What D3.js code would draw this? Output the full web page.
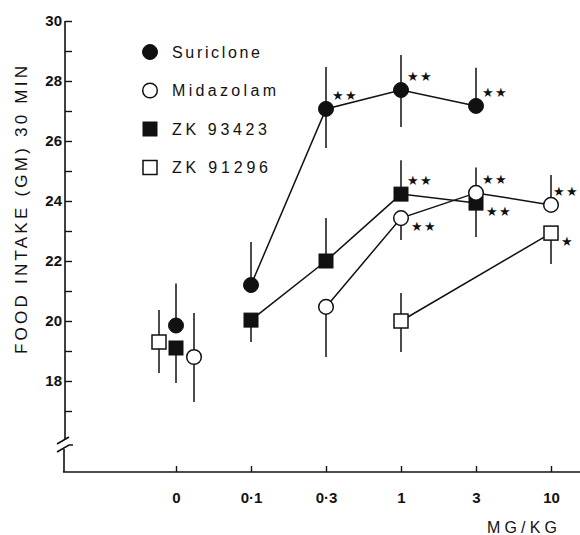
<!DOCTYPE html>
<html>
<head>
<meta charset="utf-8">
<script src="https://cdn.jsdelivr.net/npm/d3@7"></script>
<style>
  body { margin: 0; background: #fff; }
  text { font-family: "Liberation Sans", Arial, sans-serif; fill: #111; }
</style>
</head>
<body>
<div id="chart"></div>
<script>
// doses along the x axis (mg/kg), first one is the vehicle control
const doses = ["0", "0·1", "0·3", "1", "3", "10"]
const yTicks = [17, 18, 19, 20, 21, 22, 23, 24, 25, 26, 27, 28, 29, 30]

// mean food intake (g) per dose, null = not tested
const suriclone = [19.85, 21.2, 27.07, 27.7, 27.17, null]
const suricloneUp = [1.4, 1.43, 1.4, 1.17, 1.27, 0]
const suricloneDown = [0, 0, 1.3, 1.23, 0, 0]

const midazolam = [18.8, null, 20.47, 23.43, 24.27, 23.87]
const midazolamUp = [1.47, 0, 0, 0, 0.85, 1.0]
const midazolamDown = [1.5, 0, 1.67, 0.73, 0, 0]

const zk93423 = [19.1, 20.03, 22.0, 24.23, 23.93, null]
const zk93423Up = [0, 0, 1.43, 1.13, 0, 0]
const zk93423Down = [1.17, 0.73, 0, 0, 1.13, 0]

const zk91296 = [19.3, null, null, 20.0, null, 22.93]
const zk91296Up = [1.07, 0, 0, 0.93, 0, 0]
const zk91296Down = [1.03, 0, 0, 1.03, 0, 1.03]

// significance marks
const stars = [
    { series: "Suriclone", dose: "0·3", text: "★★", side: "above" },
    { series: "Suriclone", dose: "1", text: "★★", side: "above" },
    { series: "Suriclone", dose: "3", text: "★★", side: "above" },
    { series: "ZK 93423", dose: "1", text: "★★", side: "above" },
    { series: "ZK 93423", dose: "3", text: "★★", side: "below" },
    { series: "Midazolam", dose: "1", text: "★★", side: "below" },
    { series: "Midazolam", dose: "3", text: "★★", side: "above" },
    { series: "Midazolam", dose: "10", text: "★★", side: "above" },
    { series: "ZK 91296", dose: "10", text: "★", side: "below" }
]

const width = 580,
      height = 535

const series = [
    { name: "ZK 93423", values: zk93423, up: zk93423Up, down: zk93423Down, shape: "square", filled: true, ctrl: 0 },
    { name: "ZK 91296", values: zk91296, up: zk91296Up, down: zk91296Down, shape: "square", filled: false, ctrl: -17 },
    { name: "Suriclone", values: suriclone, up: suricloneUp, down: suricloneDown, shape: "circle", filled: true, ctrl: 0 },
    { name: "Midazolam", values: midazolam, up: midazolamUp, down: midazolamDown, shape: "circle", filled: false, ctrl: 18 }
]
const legendOrder = ["Suriclone", "Midazolam", "ZK 93423", "ZK 91296"]
const legendWidth = { "Suriclone": 88, "Midazolam": 104, "ZK 93423": 95, "ZK 91296": 96 }

const axisX = 65, axisBottom = 472

const x = d3.scalePoint().domain(doses).range([176, 551])
const y = d3.scaleLinear().domain([18, 30]).range([381, 21])

const svg = d3.select("#chart")
    .append("svg")
    .attr("width", width)
    .attr("height", height)

// y axis with a break near the bottom
const yAxis = svg.append("g")
    .attr("transform", `translate(${axisX}, 0)`)
    .call(d3.axisLeft(y)
        .tickValues(yTicks)
        .tickSize(-7)
        .tickSizeOuter(0)
        .tickPadding(3)
        .tickFormat(d => d >= 18 && d % 2 === 0 ? d : ""))
yAxis.select(".domain").remove()
yAxis.selectAll(".tick line").attr("stroke", "#111").attr("stroke-width", 1.4)
yAxis.selectAll(".tick text")
    .attr("font-size", "15px")
    .attr("font-weight", "bold")
    .attr("font-family", "Liberation Sans, Arial, sans-serif")

const axisLine = { stroke: "#111", "stroke-width": 1.6, fill: "none" }
function styled(sel) {
    Object.entries(axisLine).forEach(([k, v]) => sel.attr(k, v))
    return sel
}
styled(svg.append("line").attr("x1", axisX).attr("x2", axisX).attr("y1", y(30)).attr("y2", 440))
styled(svg.append("path").attr("d", `M${axisX - 8},${444} L${axisX + 4},${437}`))
styled(svg.append("path").attr("d", `M${axisX - 8},${452} L${axisX + 4},${445} L${axisX + 8},${445}`))
styled(svg.append("line").attr("x1", axisX - 1).attr("x2", axisX - 1).attr("y1", 449).attr("y2", axisBottom))

// x axis
const xAxis = svg.append("g")
    .attr("transform", `translate(0, ${axisBottom})`)
    .call(d3.axisBottom(x).tickSize(-6).tickSizeOuter(0).tickPadding(20))
xAxis.select(".domain").remove()
xAxis.selectAll(".tick line").attr("stroke", "#111").attr("stroke-width", 1.4)
xAxis.selectAll(".tick text")
    .attr("font-size", "15px")
    .attr("font-weight", "bold")
    .attr("font-family", "Liberation Sans, Arial, sans-serif")
styled(svg.append("line").attr("x1", axisX - 2).attr("x2", width).attr("y1", axisBottom).attr("y2", axisBottom))

svg.append("text")
    .attr("transform", `translate(27, 210) rotate(-90)`)
    .attr("font-size", "17px")
    .attr("text-anchor", "middle")
    .attr("textLength", 288)
    .attr("lengthAdjust", "spacing")
    .text("FOOD INTAKE (GM) 30 MIN")

svg.append("text")
    .attr("x", 487)
    .attr("y", 533)
    .attr("font-size", "16px")
    .attr("textLength", 70)
    .attr("lengthAdjust", "spacing")
    .text("MG/KG")

// points
const px = (s, i) => x(doses[i]) + (i === 0 ? s.ctrl : 0)

const lineGen = d3.line()
    .defined(d => d.v !== null)
    .x(d => d.x)
    .y(d => y(d.v))

const lines = svg.append("g"), bars = svg.append("g"), marks = svg.append("g")

series.forEach(s => {
    const pts = s.values.map((v, i) => ({ v, x: px(s, i), i })).filter(d => d.v !== null)
    lines.append("path")
        .datum(pts.filter(d => d.i > 0))
        .attr("d", lineGen)
        .attr("fill", "none")
        .attr("stroke", "#111")
        .attr("stroke-width", 1.5)

    bars.selectAll(null)
        .data(pts)
        .enter()
        .append("line")
        .attr("x1", d => d.x)
        .attr("x2", d => d.x)
        .attr("y1", d => y(d.v + s.up[d.i]))
        .attr("y2", d => y(d.v - s.down[d.i]))
        .attr("stroke", "#111")
        .attr("stroke-width", 1.5)

    drawMarker(marks, s, pts.map(d => [d.x, y(d.v)]))
})

function drawMarker(g, s, xy) {
    const sel = g.selectAll(null).data(xy).enter()
    const m = s.shape === "circle"
        ? sel.append("circle").attr("cx", d => d[0]).attr("cy", d => d[1]).attr("r", s.filled ? 7.5 : 7.3)
        : sel.append("rect").attr("x", d => d[0] - 7).attr("y", d => d[1] - 7).attr("width", 14).attr("height", 14)
    m.attr("fill", s.filled ? "#111" : "#fff")
        .attr("stroke", "#111")
        .attr("stroke-width", s.filled ? 1 : 1.5)
}

// significance stars
const starOffset = { above: [6, -14], below: [10, 8] }
svg.append("g")
    .selectAll("text")
    .data(stars)
    .enter()
    .append("text")
    .attr("x", d => {
        const s = series.find(o => o.name === d.series)
        return px(s, doses.indexOf(d.dose)) + starOffset[d.side][0]
    })
    .attr("y", d => {
        const s = series.find(o => o.name === d.series)
        return y(s.values[doses.indexOf(d.dose)]) + starOffset[d.side][1]
    })
    .attr("dy", "0.36em")
    .attr("font-family", "DejaVu Sans, sans-serif")
    .attr("font-size", "13px")
    .attr("letter-spacing", "1px")
    .text(d => d.text)
    .each(function () {
        // keep the marks inside the frame
        const b = this.getBBox()
        if (b.x + b.width > width - 1) d3.select(this).attr("x", width - 1 - b.width)
    })

// legend
const legend = svg.append("g")
legendOrder.forEach((name, i) => {
    const s = series.find(o => o.name === name)
    const cy = 52 + i * 38.5
    drawMarker(legend, s, [[150, cy]])
    legend.append("text")
        .attr("x", 172)
        .attr("y", cy + 5.5)
        .attr("font-size", "16px")
        .attr("textLength", legendWidth[name])
        .attr("lengthAdjust", "spacing")
        .text(name)
})
</script>
</body>
</html>
